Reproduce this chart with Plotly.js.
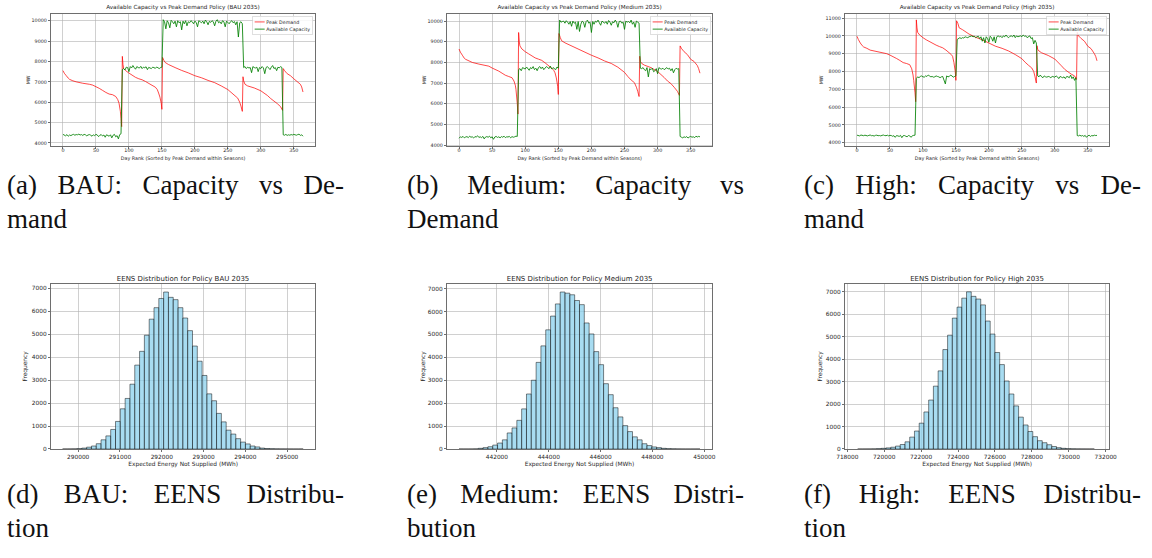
<!DOCTYPE html>
<html>
<head>
<meta charset="utf-8">
<script src="https://cdn.plot.ly/plotly-3.0.1.min.js"></script>
<style>
html,body{margin:0;padding:0;background:#fff;overflow:hidden;width:1152px;height:558px;position:relative;}
#chart{position:absolute;left:0;top:0;width:3456px;height:1674px;transform:scale(0.3333333);transform-origin:0 0;}
.cap{position:absolute;width:337px;font-family:"Liberation Serif",serif;font-size:27px;line-height:34px;color:#111;white-space:nowrap;}
.cap .j{text-align:justify;text-align-last:justify;}
</style>
</head>
<body>
<div id="chart"></div>
<div class="cap" style="left:7px;top:168px;"><div class="j">(a) BAU: Capacity vs De-</div><div>mand</div></div>
<div class="cap" style="left:407px;top:168px;"><div class="j">(b) Medium: Capacity vs</div><div>Demand</div></div>
<div class="cap" style="left:804px;top:168px;"><div class="j">(c) High: Capacity vs De-</div><div>mand</div></div>
<div class="cap" style="left:7px;top:477px;"><div class="j">(d) BAU: EENS Distribu-</div><div>tion</div></div>
<div class="cap" style="left:407px;top:477px;"><div class="j">(e) Medium: EENS Distri-</div><div>bution</div></div>
<div class="cap" style="left:804px;top:477px;"><div class="j">(f) High: EENS Distribu-</div><div>tion</div></div>
<script>
// ---------------- DATA ----------------
const dayTicks = [0, 50, 100, 150, 200, 250, 300, 350];
const mwTicksLow = [4000, 5000, 6000, 7000, 8000, 9000, 10000];
const mwTicksHigh = [4000, 5000, 6000, 7000, 8000, 9000, 10000, 11000];
const freqTicks = [0, 1000, 2000, 3000, 4000, 5000, 6000, 7000];
const eensTicksBAU = [290000, 291000, 292000, 293000, 294000, 295000];
const eensTicksMedium = [442000, 444000, 446000, 448000, 450000];
const eensTicksHigh = [718000, 720000, 722000, 724000, 726000, 728000, 730000, 732000];

// Day ranks at which the peak-demand curves were read
const demandDays = [0,2,5,8,10,15,20,30,40,45,50,55,60,65,70,75,80,83,85,86,87,88,89,
  90,91,92,95,100,105,110,115,120,125,130,135,140,143,145,147,149,150,
  151,153,155,160,170,180,190,200,210,220,230,240,250,255,260,265,268,270,272,
  273,274,276,280,290,300,310,315,320,325,330,333,
  334,336,340,345,350,355,360,362,364];

const demandBAU = [7550,7420,7300,7180,7120,7050,7000,6930,6880,6840,6760,6680,6580,6480,6400,6370,6280,6130,5950,5780,5550,5200,4800,
  8250,7850,7650,7550,7430,7330,7220,7150,7100,7020,6920,6830,6740,6620,6450,6250,5950,5650,
  8200,8050,7950,7850,7700,7560,7440,7300,7200,7070,6960,6800,6620,6480,6330,6200,6000,5800,5550,
  7250,7050,6880,6800,6700,6560,6330,6180,6050,5930,5780,5600,
  7650,7550,7400,7300,7150,7020,6880,6750,6500];

const demandMedium = [8650,8500,8350,8200,8150,8080,8000,7920,7850,7820,7730,7650,7580,7480,7380,7320,7260,7100,6900,6700,6400,6000,5500,
  9450,9000,8800,8650,8520,8420,8320,8220,8160,8100,7980,7850,7720,7620,7500,7250,6850,6450,
  9400,9200,9050,8950,8800,8650,8500,8350,8220,8070,7950,7770,7520,7320,7150,7020,6800,6600,6350,
  8300,8050,7950,7870,7750,7560,7270,7100,6980,6800,6600,6400,
  8800,8680,8520,8380,8150,8050,7850,7700,7480];

const demandHigh = [9980,9800,9600,9450,9380,9300,9200,9120,9050,9000,8920,8830,8730,8620,8500,8450,8380,8150,7800,7500,7200,6800,6300,
  10900,10450,10200,10050,9900,9780,9680,9580,9480,9400,9330,9200,9050,8950,8850,8500,8000,7500,
  10850,10700,10450,10350,10100,9920,9780,9600,9420,9300,9150,8950,8720,8520,8350,8200,8000,7700,7350,
  9450,9250,9150,9050,8900,8700,8320,8120,7980,7850,7750,7550,
  10200,10000,9850,9700,9420,9280,9000,8850,8600];

// Available capacity, read every 2nd day rank (0, 2, 4, ... 364)
const capacityStepDays = 2;
const capacityBAU = [
  4420,4380,4350,4410,4330,4390,4360,4400,4420,4380,4410,4400,4430,4390,4410,4370,4420,4400,4350,4390,4410,4380,4330,4400,4360,4420,4390,4310,4380,4410,4340,4390,4280,4400,4360,4330,4400,4250,4380,4420,4300,4360,4200,4410,4450,
  7600,7650,7580,7720,7700,7500,7750,7680,7800,7700,7620,7750,7700,7680,7760,7650,7720,7690,7740,7600,7710,7680,7650,7720,7700,7660,7730,7690,7650,7700,7720,
  10050,9950,9600,10000,9900,9650,10020,9950,9850,9980,9700,10000,9900,9950,9550,9980,9850,10000,9750,9950,9900,10000,9950,9850,9980,9920,9700,10000,9950,9900,9980,9850,10030,9950,9800,9970,9920,10000,9950,9750,9980,10050,9900,9950,9850,10000,9950,9700,9980,9920,9850,9950,10000,9900,9960,9800,9950,9200,9900,9950,9850,
  7700,7750,7650,7720,7680,7700,7450,7750,7700,7680,7720,7500,7700,7650,7750,7680,7400,7700,7750,7680,7600,7720,7800,7650,7700,7550,7720,7680,7750,7700,
  4400,4380,4420,4370,4400,4380,4410,4390,4420,4400,4380,4410,4430,4370,4400,4330];

const capacityMedium = [
  4330,4400,4370,4420,4350,4390,4410,4360,4430,4380,4400,4340,4410,4390,4450,4370,4400,4360,4420,4300,4390,4410,4380,4430,4350,4400,4280,4390,4420,4370,4400,4350,4410,4380,4430,4360,4400,4390,4420,4350,4410,4380,4400,4430,4420,
  7650,7700,7600,7750,7720,7680,7780,7700,7620,7750,7700,7800,7650,7720,7600,7750,7800,7700,7780,7650,7720,7800,7750,7700,7820,7680,7750,7700,7650,7780,7720,
  10050,9950,9980,10000,9900,10020,9950,9850,9980,9750,10000,9900,9950,9600,9980,9500,9850,10000,9950,9700,9980,10050,9900,9950,9450,9980,9850,10000,9950,10050,9920,9800,10000,9950,9900,9980,9850,10030,9950,9800,9970,9920,10050,9950,9700,9980,10000,9900,9950,9600,10000,9950,9980,9920,10050,9850,9950,9700,10000,9950,9900,
  7720,7700,7750,7650,7600,7750,7300,7700,7650,7720,7550,7600,7700,7450,7750,7700,7680,7720,7650,7700,7750,7680,7720,7600,7700,7500,7650,7720,7680,7700,
  4420,4380,4350,4400,4370,4410,4340,4390,4420,4380,4400,4360,4430,4390,4420,4400];

const capacityHigh = [
  4420,4400,4380,4430,4410,4390,4420,4400,4380,4410,4430,4390,4400,4370,4410,4420,4390,4400,4380,4410,4430,4400,4390,4420,4380,4410,4400,4360,4390,4300,4400,4380,4350,4410,4280,4390,4400,4360,4330,4400,4380,4300,4390,4410,4420,
  7600,7700,7650,7720,7750,7700,7680,7750,7720,7800,7750,7700,7720,7680,7700,7750,7720,7700,7650,7700,7720,7500,7300,7750,7700,7720,7800,7750,7680,7720,7750,
  9800,9850,9900,9850,9900,9880,9950,9920,9900,9950,9980,10000,9950,9980,9900,9950,9980,9850,9950,9700,9900,9600,9950,9850,9650,9980,9900,9700,9950,9600,9950,10000,9950,9980,9900,10000,9950,10050,9950,9900,9980,10000,9950,10050,9900,10000,9950,9980,10000,9950,10050,9980,10000,9900,9950,10000,9850,9900,9550,9750,9600,
  7750,7700,7800,7700,7650,7750,7700,7680,7720,7700,7650,7720,7700,7680,7750,7700,7600,7720,7680,7650,7700,7600,7720,7700,7650,7800,7600,7700,7500,7650,
  4400,4380,4420,4370,4400,4350,4410,4300,4380,4420,4350,4400,4380,4420,4400,4410];

// EENS histograms: 50 bins each (first bin edge, bin width, counts)
const eensBinStartBAU = 289627, eensBinWidthBAU = 115.1;
const eensCountsBAU = [1,2,5,15,40,80,130,230,400,570,850,1200,1750,2200,2820,3650,4250,4950,5650,6150,
  6550,6830,6600,6500,6150,5700,5150,4480,3820,3200,2400,2100,1550,1180,820,650,450,300,220,130,
  90,40,20,12,6,3,2,1,0,1];
const eensBinStartMedium = 440538, eensBinWidthMedium = 185.9;
const eensCountsMedium = [1,0,1,5,30,60,100,170,260,400,700,920,1250,1750,2400,3000,3780,4500,5200,5800,
  6330,6850,6800,6730,6480,6300,5500,5020,4250,3680,2850,2370,1800,1400,1020,760,530,400,230,150,
  90,60,30,15,8,3,1,0,0,1];
const eensBinStartHigh = 718560, eensBinWidthHigh = 256.5;
const eensCountsHigh = [0,1,2,5,15,30,50,80,130,200,320,530,800,1150,1650,2180,2800,3480,4430,5070,
  5830,6320,6720,7000,6800,6680,6420,5700,5120,4300,3760,3030,2450,1920,1420,1070,780,550,370,280,
  190,110,60,30,15,8,4,2,1,1];

// ---------------- LAYOUT ----------------
const W = 1152, H = 558, S = 3;
const fx = p => p / W, fy = p => 1 - p / H;

const panels = [
  {x0: 51, x1: 315, y0: 14, y1: 146},
  {x0: 447, x1: 712, y0: 14, y1: 146},
  {x0: 845, x1: 1109, y0: 14, y1: 146},
  {x0: 51, x1: 315, y0: 284, y1: 449},
  {x0: 447, x1: 712, y0: 284, y1: 449},
  {x0: 845, x1: 1109, y0: 284, y1: 449}
];

const lineSets = [
  {name: 'BAU', demand: demandBAU, capacity: capacityBAU, yr: [3850, 10330], yt: mwTicksLow, legendRight: 313, ylabX: 28},
  {name: 'Medium', demand: demandMedium, capacity: capacityMedium, yr: [3955, 10345], yt: mwTicksLow, legendRight: 711, ylabX: 424},
  {name: 'High', demand: demandHigh, capacity: capacityHigh, yr: [3812, 11230], yt: mwTicksHigh, legendRight: 1107, ylabX: 821}
];
const histSets = [
  {name: 'BAU', start: eensBinStartBAU, w: eensBinWidthBAU, counts: eensCountsBAU, xr: [289350, 295665], xt: eensTicksBAU, yr: [0, 7180], ylabX: 25},
  {name: 'Medium', start: eensBinStartMedium, w: eensBinWidthMedium, counts: eensCountsMedium, xr: [440075, 450297], xt: eensTicksMedium, yr: [0, 7200], ylabX: 423},
  {name: 'High', start: eensBinStartHigh, w: eensBinWidthHigh, counts: eensCountsHigh, xr: [717874, 732180], xt: eensTicksHigh, yr: [0, 7350], ylabX: 820}
];

const axColor = '#4a4a4a';
const axBase = {
  showline: true, mirror: true, linecolor: axColor, linewidth: 2.4,
  ticks: 'outside', ticklen: 7, tickwidth: 2.4, tickcolor: axColor,
  showgrid: true, gridcolor: 'rgba(176,176,176,0.75)', gridwidth: 2.4,
  zeroline: false, tickformat: 'd', fixedrange: true, automargin: false
};

const traces = [];
const layout = {
  width: W * S, height: H * S,
  margin: {l: 0, r: 0, t: 0, b: 0},
  paper_bgcolor: '#ffffff', plot_bgcolor: '#ffffff',
  font: {family: 'DejaVu Sans', color: '#222222'},
  showlegend: true,
  annotations: []
};

function ann(text, x, y, size, angle) {
  layout.annotations.push({
    text: text, x: fx(x), y: fy(y), xref: 'paper', yref: 'paper',
    xanchor: 'center', yanchor: 'middle', showarrow: false,
    textangle: angle || 0,
    font: {family: 'DejaVu Sans', size: size, color: '#262626'}
  });
}

lineSets.forEach((d, i) => {
  const k = i + 1, sfx = k === 1 ? '' : String(k);
  const p = panels[i];
  const legId = k === 1 ? 'legend' : 'legend' + k;
  const capDays = d.capacity.map((_, j) => j * capacityStepDays);
  traces.push({
    type: 'scatter', mode: 'lines', x: demandDays, y: d.demand,
    xaxis: 'x' + sfx, yaxis: 'y' + sfx, name: 'Peak Demand', legend: legId,
    line: {color: 'rgba(255,0,0,0.72)', width: 3}
  });
  traces.push({
    type: 'scatter', mode: 'lines', x: capDays, y: d.capacity,
    xaxis: 'x' + sfx, yaxis: 'y' + sfx, name: 'Available Capacity', legend: legId,
    line: {color: 'rgba(0,128,0,0.85)', width: 3}
  });
  layout['xaxis' + sfx] = Object.assign({}, axBase, {
    domain: [fx(p.x0), fx(p.x1)], anchor: 'y' + sfx, range: [-18.2, 382.2],
    tickvals: dayTicks, tickfont: {size: 14.5, color: '#262626'}, ticklabelstandoff: -8
  });
  layout['yaxis' + sfx] = Object.assign({}, axBase, {
    domain: [fy(p.y1), fy(p.y0)], anchor: 'x' + sfx, range: d.yr,
    tickvals: d.yt, tickfont: {size: 14.5, color: '#262626'}
  });
  layout[legId] = {
    x: fx(d.legendRight), y: fy(16), xanchor: 'right', yanchor: 'top',
    bgcolor: 'rgba(255,255,255,0.85)', bordercolor: '#cfcfcf', borderwidth: 2,
    font: {size: 14.3, family: 'DejaVu Sans', color: '#262626'},
    tracegroupgap: 0, itemwidth: 30
  };
  const cx = (p.x0 + p.x1) / 2;
  ann('Available Capacity vs Peak Demand Policy (' + d.name + ' 2035)', cx, 7.3, 17);
  ann('Day Rank (Sorted by Peak Demand within Seasons)', cx, 158, 14.5);
  ann('MW', d.ylabX, (p.y0 + p.y1) / 2, 14.5, -90);
});

histSets.forEach((d, i) => {
  const k = i + 4, sfx = String(k);
  const p = panels[k - 1];
  const centers = d.counts.map((_, j) => d.start + d.w * (j + 0.5));
  traces.push({
    type: 'bar', x: centers, y: d.counts, width: d.w,
    xaxis: 'x' + sfx, yaxis: 'y' + sfx, showlegend: false,
    marker: {color: 'rgba(135,206,235,0.72)', line: {color: 'rgba(0,0,0,0.72)', width: 2}}
  });
  layout['xaxis' + sfx] = Object.assign({}, axBase, {
    domain: [fx(p.x0), fx(p.x1)], anchor: 'y' + sfx, range: d.xr,
    tickvals: d.xt, tickfont: {size: 17.5, color: '#262626'}
  });
  layout['yaxis' + sfx] = Object.assign({}, axBase, {
    domain: [fy(p.y1), fy(p.y0)], anchor: 'x' + sfx, range: d.yr,
    tickvals: freqTicks, tickfont: {size: 17.5, color: '#262626'}
  });
  const cx = (p.x0 + p.x1) / 2;
  ann('EENS Distribution for Policy ' + d.name + ' 2035', cx, 279, 21);
  ann('Expected Energy Not Supplied (MWh)', cx, 464, 17.5);
  ann('Frequency', d.ylabX, (p.y0 + p.y1) / 2, 17.5, -90);
});
layout.bargap = 0;
layout.barmode = 'overlay';

Plotly.newPlot('chart', traces, layout, {displayModeBar: false, staticPlot: true});
</script>
</body>
</html>
